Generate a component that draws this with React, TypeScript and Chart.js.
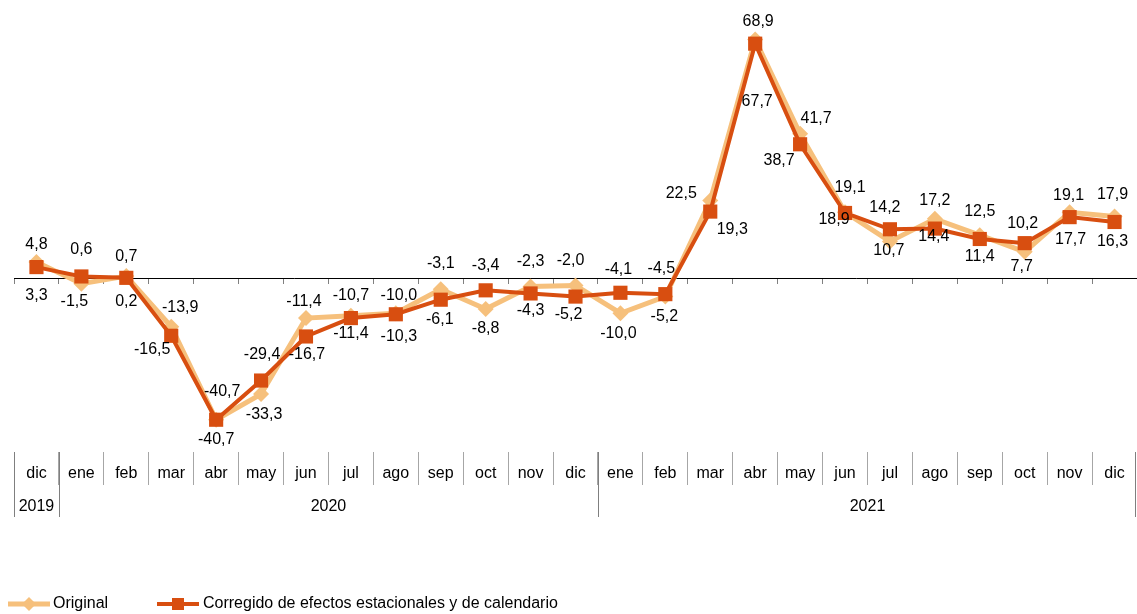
import React, { useEffect, useRef } from 'react';
import { Chart, registerables } from 'chart.js';

Chart.register(...registerables);

// ---- Data ----
const months = ['dic', 'ene', 'feb', 'mar', 'abr', 'may', 'jun', 'jul', 'ago', 'sep', 'oct', 'nov', 'dic',
  'ene', 'feb', 'mar', 'abr', 'may', 'jun', 'jul', 'ago', 'sep', 'oct', 'nov', 'dic'];
const yearLabels = ['2019', '2020', '2021'];
const yearSpans = [1, 12, 12];

const originalValues = [4.8, -1.5, 0.7, -13.9, -40.7, -33.3, -11.4, -10.7, -10.0, -3.1, -8.8, -2.3, -2.0,
  -10.0, -5.2, 22.5, 68.9, 41.7, 19.1, 10.7, 17.2, 12.5, 7.7, 19.1, 17.9];
const correctedValues = [3.3, 0.6, 0.2, -16.5, -40.7, -29.4, -16.7, -11.4, -10.3, -6.1, -3.4, -4.3, -5.2,
  -4.1, -4.5, 19.3, 67.7, 38.7, 18.9, 14.2, 14.4, 11.4, 10.2, 17.7, 16.3];

const seriesNames = ['Original', 'Corregido de efectos estacionales y de calendario'];

// ---- Label placement (pixel nudges relative to each point) ----
const originalLabelOffsets: [number, number][] = [
  [0, -17], [-7, 18], [0, -20], [9, -19], [0, 20], [3, 21], [-2, -16], [0, -20], [3, -18], [0, -26],
  [0, 20], [0, -25], [-5, -25], [-2, 20], [-1, 20], [-29, -7], [3, -18], [16, -15], [5, -25], [-1, 9],
  [0, -18], [0, -24], [-3, 15], [-1, -17], [-2, -22],
];
const correctedLabelOffsets: [number, number][] = [
  [0, 29], [0, -27], [0, 24], [-19, 14], [6, -28], [1, -26], [1, 18], [0, 16], [3, 22], [-1, 20],
  [0, -25], [0, 17], [-7, 18], [-2, -23], [-4, -26], [22, 18], [2, 58], [-21, 16], [-11, 7], [-5, -22],
  [-1, 8], [0, 18], [-2, -20], [1, 22], [-2, 20],
];

const ORIG_COLOR = '#F6C07C';
const CORR_COLOR = '#D84E10';
const FONT_FAMILY = 'Arial, "Liberation Sans", sans-serif';

const fmt = (v: number) => v.toFixed(1).replace('.', ',');

const labelsPlugin = {
  id: 'valueLabels',
  afterDatasetsDraw(chart: any) {
    const ctx = chart.ctx;
    ctx.save();
    ctx.font = `16px ${FONT_FAMILY}`;
    ctx.fillStyle = '#000';
    ctx.textAlign = 'center';
    ctx.textBaseline = 'middle';
    const offsets = [originalLabelOffsets, correctedLabelOffsets];
    chart.data.datasets.forEach((ds: any, di: number) => {
      const meta = chart.getDatasetMeta(di);
      meta.data.forEach((el: any, i: number) => {
        const [dx, dy] = offsets[di][i];
        ctx.fillText(fmt(ds.data[i]), el.x + dx, el.y + dy);
      });
    });
    ctx.restore();
  },
};

const tablePlugin = {
  id: 'yearTable',
  afterDraw(chart: any) {
    const ctx = chart.ctx;
    const xs = chart.scales.x;
    const n = months.length;
    const step = (xs.right - xs.left) / n;
    const top = xs.top;
    ctx.save();
    // year separators
    ctx.strokeStyle = '#7f7f7f';
    ctx.lineWidth = 1;
    let idx = 0;
    const bounds = [0];
    yearSpans.forEach((s) => { idx += s; bounds.push(idx); });
    bounds.forEach((b) => {
      let px = Math.round(xs.left + b * step) + 0.5;
      if (px > chart.width - 0.5) px = chart.width - 1.5;
      ctx.beginPath();
      ctx.moveTo(px, top);
      ctx.lineTo(px, top + 65);
      ctx.stroke();
    });
    // year labels
    ctx.font = `16px ${FONT_FAMILY}`;
    ctx.fillStyle = '#000';
    ctx.textAlign = 'center';
    ctx.textBaseline = 'middle';
    let start = 0;
    yearLabels.forEach((lab, i) => {
      const cx = xs.left + (start + yearSpans[i] / 2) * step;
      ctx.fillText(lab, cx, top + 55);
      start += yearSpans[i];
    });

    // legend
    const ly = 604;
    const ds0 = chart.data.datasets[0];
    const ds1 = chart.data.datasets[1];
    // Original
    ctx.strokeStyle = ds0.borderColor;
    ctx.lineWidth = 5;
    ctx.beginPath();
    ctx.moveTo(8, ly);
    ctx.lineTo(50, ly);
    ctx.stroke();
    ctx.fillStyle = ds0.backgroundColor;
    ctx.beginPath();
    ctx.moveTo(29 - 7, ly);
    ctx.lineTo(29, ly - 7);
    ctx.lineTo(29 + 7, ly);
    ctx.lineTo(29, ly + 7);
    ctx.closePath();
    ctx.fill();
    // Corrected
    ctx.strokeStyle = ds1.borderColor;
    ctx.lineWidth = 4;
    ctx.beginPath();
    ctx.moveTo(157, ly);
    ctx.lineTo(199, ly);
    ctx.stroke();
    ctx.fillStyle = ds1.backgroundColor;
    ctx.fillRect(178 - 6, ly - 6, 12, 12);

    ctx.fillStyle = '#000';
    ctx.textAlign = 'left';
    ctx.fillText(ds0.label, 53, ly);
    ctx.fillText(ds1.label, 203, ly);
    ctx.restore();
  },
};

export default function App() {
  const canvasRef = useRef<HTMLCanvasElement | null>(null);

  useEffect(() => {
    if (!canvasRef.current) return;
    const chart = new Chart(canvasRef.current, {
      type: 'line',
      data: {
        labels: months,
        datasets: [
          {
            label: seriesNames[0],
            data: originalValues,
            borderColor: ORIG_COLOR,
            backgroundColor: ORIG_COLOR,
            borderWidth: 5,
            pointStyle: 'rectRot',
            pointRadius: 8,
            pointBorderWidth: 0,
            tension: 0,
            order: 2,
          },
          {
            label: seriesNames[1],
            data: correctedValues,
            borderColor: CORR_COLOR,
            backgroundColor: CORR_COLOR,
            borderWidth: 4,
            pointStyle: 'rect',
            pointRadius: 10,
            pointBorderWidth: 0,
            tension: 0,
            order: 1,
          },
        ],
      },
      options: {
        animation: false,
        responsive: true,
        maintainAspectRatio: false,
        devicePixelRatio: 1,
        layout: { autoPadding: false, padding: { left: 14, right: 0, top: 1, bottom: 0 } },
        plugins: {
          legend: { display: false },
          tooltip: { enabled: false },
          title: { display: false },
        },
        scales: {
          x: {
            type: 'category',
            offset: true,
            ticks: {
              autoSkip: false,
              maxRotation: 0,
              minRotation: 0,
              padding: -21,
              color: '#000',
              font: { family: FONT_FAMILY, size: 16 },
            },
            border: { display: false },
            grid: {
              display: true,
              drawOnChartArea: false,
              drawTicks: true,
              tickLength: 33,
              offset: true,
              color: '#a6a6a6',
              lineWidth: 1,
            },
            afterFit: (s: any) => { s.height = 162; },
          },
          x2: {
            type: 'category',
            position: { y: 0 } as any,
            offset: true,
            ticks: { display: false },
            border: { display: false },
            grid: {
              display: true,
              drawOnChartArea: false,
              drawTicks: true,
              tickLength: 5,
              offset: true,
              color: '#808080',
              lineWidth: 1,
            },
          },
          y: {
            display: true,
            min: -50,
            max: 80,
            ticks: { display: false, stepSize: 10 },
            border: { display: false },
            grid: {
              drawTicks: false,
              lineWidth: 1,
              color: (c: any) => (c.tick && c.tick.value === 0 ? '#000' : 'rgba(0,0,0,0)'),
            },
          },
        },
      } as any,
      plugins: [labelsPlugin, tablePlugin],
    });
    return () => chart.destroy();
  }, []);

  return (
    <div style={{ position: 'fixed', left: 0, top: 0, width: 1137, height: 614, background: '#fff' }}>
      <canvas ref={canvasRef} />
    </div>
  );
}
